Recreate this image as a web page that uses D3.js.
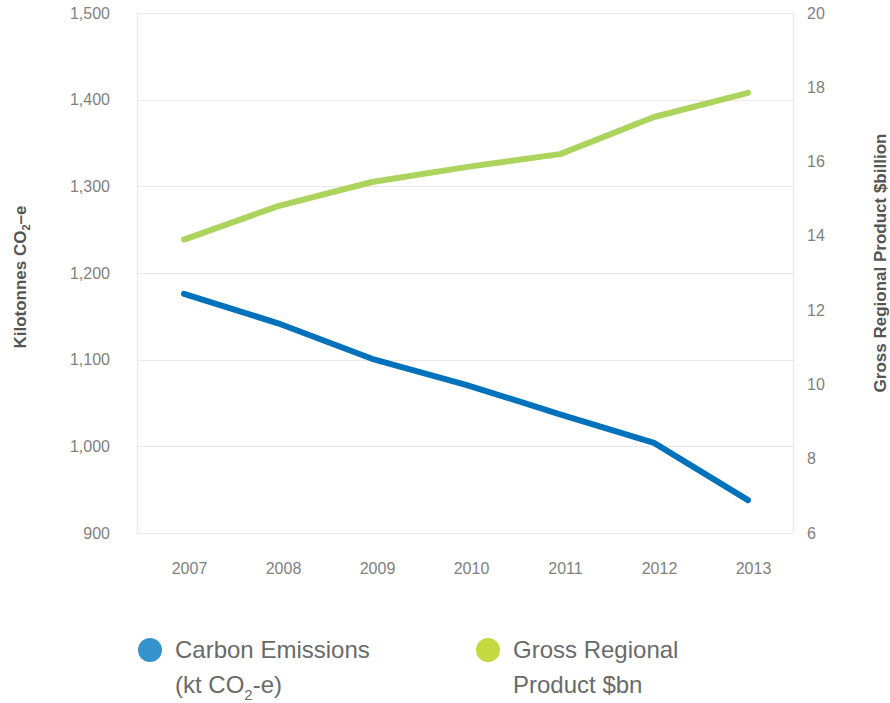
<!DOCTYPE html>
<html>
<head>
<meta charset="utf-8">
<script src="https://cdnjs.cloudflare.com/ajax/libs/d3/7.8.5/d3.min.js"></script>
<style>
  body { margin: 0; background: #fff; }
  svg { display: block; font-family: "Liberation Sans", Arial, sans-serif; }
</style>
</head>
<body>
<script>
// Chart values
const years = ["2007", "2008", "2009", "2010", "2011", "2012", "2013"];
const emissions = [1176, 1142, 1101, 1071, 1037, 1004, 938]; // kt CO2-e (left axis)
const grossProduct = [13.9, 14.8, 15.45, 15.85, 16.2, 17.2, 17.85]; // $bn (right axis)
const leftTicks = [900, 1000, 1100, 1200, 1300, 1400, 1500];
const rightTicks = [6, 8, 10, 12, 14, 16, 18, 20];

// Dimensions
const width = 890;
const height = 703;
const plot = { left: 137, right: 793, top: 13, bottom: 533 };

const svg = d3
  .select("body")
  .append("svg")
  .attr("width", width)
  .attr("height", height);

// Scales
const xScale = d3
  .scalePoint()
  .domain(years)
  .range([plot.left + 47, plot.right - 45]);

const yLeft = d3
  .scaleLinear()
  .domain([900, 1500])
  .range([plot.bottom, plot.top]);

const yRight = d3
  .scaleLinear()
  .domain([6, 20])
  .range([plot.bottom, plot.top]);

// Gridlines (follow the left axis)
svg
  .append("g")
  .selectAll("line")
  .data(leftTicks)
  .join("line")
  .attr("x1", plot.left)
  .attr("x2", plot.right)
  .attr("y1", (d) => Math.round(yLeft(d)) + 0.5)
  .attr("y2", (d) => Math.round(yLeft(d)) + 0.5)
  .attr("stroke", "#e8e8e8")
  .attr("stroke-width", 1.2);

// Frame sides
svg
  .append("g")
  .selectAll("line")
  .data([plot.left, plot.right])
  .join("line")
  .attr("x1", (d) => d + 0.5)
  .attr("x2", (d) => d + 0.5)
  .attr("y1", plot.top)
  .attr("y2", plot.bottom)
  .attr("stroke", "#e8e8e8")
  .attr("stroke-width", 1.2);

// Left axis
const leftAxis = svg
  .append("g")
  .attr("transform", `translate(${plot.left - 24},0)`)
  .call(
    d3.axisLeft(yLeft).tickValues(leftTicks).tickSize(0).tickFormat(d3.format(","))
  );

// Right axis
const rightAxis = svg
  .append("g")
  .attr("transform", `translate(${plot.right + 14},0)`)
  .call(d3.axisRight(yRight).tickValues(rightTicks).tickSize(0));

// Bottom axis
const bottomAxis = svg
  .append("g")
  .attr("transform", `translate(5,${plot.bottom + 27})`)
  .call(d3.axisBottom(xScale).tickSize(0));

[leftAxis, rightAxis, bottomAxis].forEach((ax) => {
  ax.select(".domain").remove();
  ax.selectAll("text")
    .style("font-size", "16px")
    .style("font-family", "Liberation Sans, Arial, sans-serif")
    .attr("fill", "#808080");
});
rightAxis.selectAll("text").attr("x", 0);

// Lines
const lineLeft = d3
  .line()
  .x((d, i) => xScale(years[i]))
  .y((d) => yLeft(d));

const lineRight = d3
  .line()
  .x((d, i) => xScale(years[i]))
  .y((d) => yRight(d));

svg
  .append("path")
  .datum(grossProduct)
  .attr("d", lineRight)
  .attr("fill", "none")
  .attr("stroke", "#acd35c")
  .attr("stroke-width", 6)
  .attr("stroke-linecap", "round")
  .attr("stroke-linejoin", "round");

svg
  .append("path")
  .datum(emissions)
  .attr("d", lineLeft)
  .attr("fill", "none")
  .attr("stroke", "#0072bc")
  .attr("stroke-width", 6)
  .attr("stroke-linecap", "round")
  .attr("stroke-linejoin", "round");

// Axis titles
const leftTitle = svg
  .append("text")
  .attr("transform", "translate(26,277) rotate(-90)")
  .attr("text-anchor", "middle")
  .style("font-size", "17px")
  .style("font-weight", "bold")
  .attr("fill", "#555");
leftTitle.append("tspan").text("Kilotonnes CO");
leftTitle
  .append("tspan")
  .attr("dy", 4)
  .style("font-size", "11px")
  .text("2");
leftTitle.append("tspan").attr("dy", -4).text("\u2013e");

svg
  .append("text")
  .attr("transform", "translate(886,263) rotate(-90)")
  .attr("text-anchor", "middle")
  .style("font-size", "17px")
  .style("font-weight", "bold")
  .attr("fill", "#555")
  .text("Gross Regional Product $billion");

// Legend
const legendItems = [
  { color: "#3592cd", x: 150, lines: ["Carbon Emissions", "(kt CO|2|-e)"] },
  { color: "#c3d940", x: 488, lines: ["Gross Regional", "Product $bn"] },
];

const legend = svg
  .append("g")
  .selectAll("g")
  .data(legendItems)
  .join("g")
  .attr("transform", (d) => `translate(${d.x},650)`);

legend
  .append("circle")
  .attr("r", 12)
  .attr("fill", (d) => d.color);

legend.each(function (d) {
  d.lines.forEach((txt, i) => {
    const t = d3
      .select(this)
      .append("text")
      .attr("x", 25)
      .attr("y", 8 + i * 35)
      .style("font-size", "24px")
      .attr("fill", "#6a6a6a");
    const parts = txt.split("|");
    if (parts.length === 1) {
      t.text(txt);
    } else {
      t.append("tspan").text(parts[0]);
      t.append("tspan").attr("dy", 7).style("font-size", "15px").text(parts[1]);
      t.append("tspan").attr("dy", -7).text(parts[2]);
    }
  });
});
</script>
</body>
</html>
